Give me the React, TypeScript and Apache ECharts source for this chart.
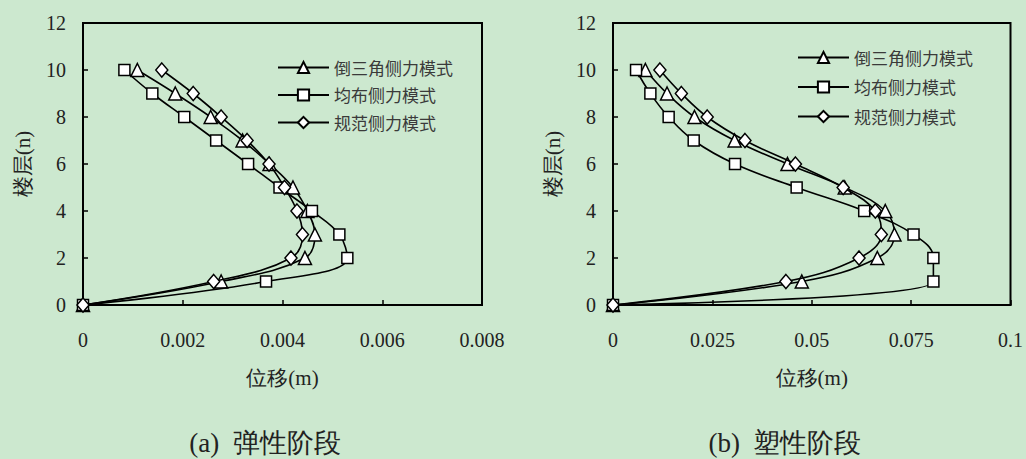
import React, { useEffect, useRef } from "react";
import * as echarts from "echarts";

const floors = [0, 1, 2, 3, 4, 5, 6, 7, 8, 9, 10];
const seriesNames = ["倒三角侧力模式", "均布侧力模式", "规范侧力模式"];

// (a) elastic stage, displacement in m per floor 0..10
const elasticTriangle = [0, 0.00277, 0.00445, 0.00465, 0.0045, 0.00421, 0.00374, 0.0032, 0.00256, 0.00185, 0.00109];
const elasticUniform = [0, 0.00367, 0.0053, 0.00514, 0.00459, 0.00394, 0.00331, 0.00267, 0.00203, 0.00139, 0.00083];
const elasticCode = [0, 0.00262, 0.00417, 0.0044, 0.00429, 0.00404, 0.00373, 0.00329, 0.00277, 0.00221, 0.00158];

// (b) plastic stage
const plasticTriangle = [0, 0.0475, 0.0665, 0.0708, 0.0685, 0.0583, 0.0439, 0.0306, 0.0205, 0.0136, 0.00815];
const plasticUniform = [0, 0.0806, 0.0806, 0.0756, 0.0632, 0.0462, 0.0307, 0.0203, 0.014, 0.0094, 0.0058];
const plasticCode = [0, 0.0435, 0.0619, 0.0675, 0.066, 0.0579, 0.0459, 0.0332, 0.0237, 0.0172, 0.0118];

const xTicksA = { min: 0, max: 0.008, interval: 0.002 };
const xTicksB = { min: 0, max: 0.1, interval: 0.025 };
const yTicks = { min: 0, max: 12, interval: 2 };

const subtitleA = "(a)  弹性阶段";
const subtitleB = "(b)  塑性阶段";
const xName = "位移(m)";
const yName = "楼层(n)";

const BG = "#cce8cf";
const SERIF = "'Times New Roman', 'Liberation Serif', serif";
const CJK = "'Noto Sans CJK SC', sans-serif";

const symbols = ["triangle", "rect", "diamond"];
const symbolSizes: any[] = [13, 11, [12, 14]];

export default function App() {
  const ref = useRef<HTMLDivElement>(null);
  useEffect(() => {
    if (!ref.current) return;
    document.body.style.margin = "0";
    document.body.style.background = BG;
    const chart = echarts.init(ref.current, null, { renderer: "svg" });

    const mkX = (gridIndex: number, t: any) => ({
      type: "value",
      gridIndex,
      min: t.min,
      max: t.max,
      interval: t.interval,
      name: xName,
      nameLocation: "middle",
      nameGap: 62,
      nameTextStyle: { fontFamily: SERIF, fontSize: 21, color: "#222" },
      axisLine: { show: true, onZero: false, lineStyle: { color: "#000", width: 2 } },
      axisTick: { show: true, inside: true, length: 5, lineStyle: { color: "#000", width: 1.5 } },
      axisLabel: { fontFamily: SERIF, fontSize: 20, color: "#222", margin: 25 },
      splitLine: { show: false },
    });
    const mkY = (gridIndex: number) => ({
      type: "value",
      gridIndex,
      min: yTicks.min,
      max: yTicks.max,
      interval: yTicks.interval,
      name: yName,
      nameLocation: "middle",
      nameGap: 50,
      nameRotate: 90,
      nameTextStyle: { fontFamily: SERIF, fontSize: 21, color: "#222" },
      axisLine: { show: true, onZero: false, lineStyle: { color: "#000", width: 2 } },
      axisTick: { show: true, inside: true, length: 5, lineStyle: { color: "#000", width: 1.5 } },
      axisLabel: { fontFamily: SERIF, fontSize: 20, color: "#222", margin: 17 },
      splitLine: { show: false },
    });

    const mkSeries = (name: string, idx: number, vals: number[], axisIdx: number) => ({
      type: "line",
      name,
      xAxisIndex: axisIdx,
      yAxisIndex: axisIdx,
      data: vals.map((v, i) => [v, floors[i]]),
      smooth: 0.4,
      symbol: symbols[idx],
      symbolSize: symbolSizes[idx],
      showAllSymbol: true,
      lineStyle: { color: "#000", width: 1.6 },
      itemStyle: { color: "#fff", borderColor: "#000", borderWidth: 1.5 },
      z: 2 + idx,
    });

    const mkLegend = (left: number, top: number, gap: number) => ({
      orient: "vertical",
      left,
      top,
      itemWidth: 51,
      itemHeight: 14,
      itemGap: gap,
      data: seriesNames,
      selectedMode: false,
      textStyle: { fontFamily: CJK, fontSize: 17, color: "#3a3a3a" },
    });

    chart.setOption({
      animation: false,
      backgroundColor: BG,
      grid: [
        { left: 83, top: 23, width: 399, height: 282, show: true, borderColor: "#000", borderWidth: 2, backgroundColor: "transparent" },
        { left: 613, top: 23, width: 400, height: 282, show: true, borderColor: "#000", borderWidth: 2, backgroundColor: "transparent" },
      ],
      xAxis: [mkX(0, xTicksA), mkX(1, xTicksB)],
      yAxis: [mkY(0), mkY(1)],
      legend: [mkLegend(272, 54, 10.5), mkLegend(792, 44, 12.5)],
      series: [
        mkSeries(seriesNames[0], 0, elasticTriangle, 0),
        mkSeries(seriesNames[1], 1, elasticUniform, 0),
        mkSeries(seriesNames[2], 2, elasticCode, 0),
        mkSeries(seriesNames[0], 0, plasticTriangle, 1),
        mkSeries(seriesNames[1], 1, plasticUniform, 1),
        mkSeries(seriesNames[2], 2, plasticCode, 1),
      ],
      graphic: [
        {
          type: "text",
          x: 265,
          y: 443,
          style: { text: subtitleA, fontFamily: SERIF, fontSize: 27, fill: "#222", align: "center", verticalAlign: "middle" },
        },
        {
          type: "text",
          x: 785,
          y: 443,
          style: { text: subtitleB, fontFamily: SERIF, fontSize: 27, fill: "#222", align: "center", verticalAlign: "middle" },
        },
      ],
    });
    return () => chart.dispose();
  }, []);
  return (
    <div
      ref={ref}
      style={{ position: "fixed", left: 0, top: 0, width: 1026, height: 459, background: BG }}
    />
  );
}
